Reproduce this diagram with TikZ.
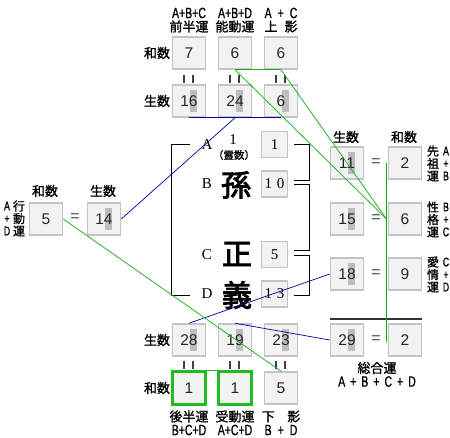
\documentclass[tikz,border=0pt]{standalone}
\usepackage{fontspec}
\setmainfont{Liberation Sans}
\newfontfamily\jp[FakeBold=1.2]{Noto Sans CJK JP}
\newfontfamily\jpb[FakeBold=3]{Noto Sans CJK JP}
\newfontfamily\ser{Liberation Serif}
\newfontfamily\nar[FakeStretch=0.7,FakeBold=0.8]{Liberation Sans}
\definecolor{boxfill}{HTML}{F2F2F2}
\definecolor{boxline}{HTML}{C4C4C4}
\definecolor{hlgray}{HTML}{BDBDBD}
\definecolor{lgreen}{HTML}{1FB01F}
\definecolor{vgreen}{HTML}{00B800}
\definecolor{lblue}{HTML}{0000A8}
\definecolor{bgreen}{HTML}{22BB22}
\tikzset{
 numbox/.style={draw=boxline, line width=1.5pt, fill=boxfill, minimum width=33pt, minimum height=32pt, inner sep=0pt, font=\fontsize{15.5}{15.5}\selectfont, text=black!85},
 hl/.style={path picture={\fill[hlgray] ([xshift=1pt,yshift=-11pt]path picture bounding box.center) rectangle ++(7pt,22pt);}},
 grbox/.style={numbox, draw=bgreen, line width=3pt},
 smallbox/.style={draw=boxline, line width=1.5pt, fill=boxfill, minimum width=26pt, minimum height=26pt, inner sep=0pt, font=\ser\fontsize{15}{15}\selectfont},
 jlab/.style={font=\jp\fontsize{13}{13}\selectfont, inner sep=0pt, align=center},
 nlab/.style={font=\nar\fontsize{15}{15}\selectfont, inner sep=0pt, align=center},
 jstack/.style={font=\jp\fontsize{12}{12.5}\selectfont, inner sep=0pt, align=center},
 nstack/.style={font=\nar\fontsize{12.5}{12.5}\selectfont, inner sep=0pt, align=center},
 serlab/.style={font=\ser\fontsize{15}{15}\selectfont, inner sep=0pt},
 bigk/.style={font=\jpb\fontsize{30}{30}\selectfont, inner sep=0pt},
 eqsign/.style={font=\fontsize{16}{16}\selectfont, text=black!70, inner sep=0pt},
 vmark/.style={draw=black!75, line width=1.8pt},
 bluel/.style={draw=lblue, line width=0.7pt},
 greenl/.style={draw=lgreen, line width=0.75pt},
 brk/.style={draw=black, line width=0.9pt},
}
\newcommand\vmarks[2]{%
 \draw[vmark] ([xshift=-5pt,yshift=-#2]#1.south) -- ++(0,8);
 \draw[vmark] ([xshift=4pt,yshift=-#2]#1.south) -- ++(0,8);}
\begin{document}
\begin{tikzpicture}[x=1pt,y=-1pt]
\useasboundingbox[fill=white] (0,0) rectangle (450,438);
% top labels
\node[nlab] (ta1) at (189,13) {A+B+C};
\node[jlab] (tb1) at (189,26.5) {前半運};
\node[nlab] (ta2) at (235,13) {A+B+D};
\node[jlab] (tb2) at (235,26.5) {能動運};
\node[nlab] (ta3) at (281,13) {A\hspace{6pt}+\hspace{6pt}C};
\node[jlab] (tb3) at (281,26.5) {上\hspace{7pt}影};
% top rows
\node[jlab] (tlw) at (157,53) {和数};
\node[jlab] (tls) at (157,101) {生数};
\node[numbox] (t1w) at (189,53) {7};
\node[numbox] (t2w) at (235,53) {6};
\node[numbox] (t3w) at (281,53) {6};
\node[numbox,hl] (t1s) at (189,101) {16};
\node[numbox,hl] (t2s) at (235,101) {24};
\node[numbox,hl] (t3s) at (281,101) {6};
\vmarks{t1w}{5pt}\vmarks{t2w}{5pt}\vmarks{t3w}{5pt}
% left
\node[jlab] (llw) at (45,191) {和数};
\node[jlab] (lls) at (103,191) {生数};
\node[nstack] (lsa) at (7,218.5) {A\\+\\D};
\node[jstack] (lsb) at (19,218.5) {行\\動\\運};
\node[numbox] (l5) at (46,219) {5};
\node[eqsign] (leq) at (75,218) {=};
\node[numbox,hl] (l14) at (104,219) {14};
% middle
\node[serlab] (la) at (207,145) {A};
\node[serlab] (lb) at (207,184) {B};
\node[serlab] (lc) at (207,255) {C};
\node[serlab] (ld) at (207,294) {D};
\node[serlab] (one) at (233,140) {1};
\node[font=\jp\fontsize{10.5}{10.5}\selectfont, inner sep=0pt] (rei) at (234,155) {（霊数）};
\node[bigk] (son) at (236,185) {孫};
\node[bigk] (sei) at (237,254) {正};
\node[bigk] (gi) at (237,295) {義};
\node[smallbox] (sa) at (274.5,144.5) {1};
\node[smallbox] (sb) at (274.5,184) {1\hspace{5pt}0};
\node[smallbox] (sc) at (274.5,254.5) {5};
\node[smallbox] (sd) at (274.5,294) {1\hspace{5pt}3};
\draw[brk] (190,144) -- (171,144) -- (171,295) -- (190,295);
\draw[brk] (294,144) -- (309,144) -- (309,180) -- (294,180);
\draw[brk] (294,184) -- (309,184) -- (309,250) -- (294,250);
\draw[brk] (294,255) -- (309,255) -- (309,295) -- (294,295);
% right column
\node[jlab] (rls) at (346,137) {生数};
\node[jlab] (rlw) at (404,137) {和数};
\node[numbox,hl] (r1s) at (347,163) {11};
\node[eqsign] (r1e) at (376,163) {=};
\node[numbox] (r1w) at (405,163) {2};
\node[numbox,hl] (r2s) at (347,219) {15};
\node[eqsign] (r2e) at (376,219) {=};
\node[numbox] (r2w) at (405,219) {6};
\node[numbox,hl] (r3s) at (347,274) {18};
\node[eqsign] (r3e) at (376,274) {=};
\node[numbox] (r3w) at (405,274) {9};
\node[numbox,hl] (r4s) at (347,340) {29};
\node[eqsign] (r4e) at (376,340) {=};
\node[numbox] (r4w) at (405,340) {2};
\node[jstack] (rk1) at (433,163.5) {先\\祖\\運};
\node[nstack] (rt1) at (446,163.5) {A\\+\\B};
\node[jstack] (rk2) at (433,219.5) {性\\格\\運};
\node[nstack] (rt2) at (446,219.5) {B\\+\\C};
\node[jstack] (rk3) at (433,274.5) {愛\\情\\運};
\node[nstack] (rt3) at (446,274.5) {C\\+\\D};
\draw[line width=2.5pt, black!80] ([yshift=4pt]r4s.north west) -- ([yshift=4pt]r4w.north east);
\node[jlab] (sog) at (377,368) {総合運};
\node[nlab] (sogf) at (377,381.5) {A\hspace{5pt}+\hspace{5pt}B\hspace{5pt}+\hspace{5pt}C\hspace{5pt}+\hspace{5pt}D};
% bottom rows
\node[jlab] (bls) at (157,340) {生数};
\node[jlab] (blw) at (157,388) {和数};
\node[numbox,hl] (b1s) at (189,340) {28};
\node[numbox,hl] (b2s) at (235,340) {19};
\node[numbox,hl] (b3s) at (281,340) {23};
\node[grbox] (b1w) at (189,388) {1};
\node[grbox] (b2w) at (235,388) {1};
\node[numbox] (b3w) at (281,388) {5};
\vmarks{b1s}{4pt}\vmarks{b2s}{4pt}\vmarks{b3s}{4pt}
\node[jlab] (bb1) at (189,416.5) {後半運};
\node[nlab] (ba1) at (189,430) {B+C+D};
\node[jlab] (bb2) at (235,416.5) {受動運};
\node[nlab] (ba2) at (235,430) {A+C+D};
\node[jlab] (bb3) at (281,416.5) {下\hspace{12.5pt}影};
\node[nlab] (ba3) at (281,430) {B\hspace{6pt}+\hspace{6pt}D};
% connectors
\draw[bluel] (t1s.south) -- (t3s.south);
\draw[bluel] (t2s.south) -- (l14.east);
\draw[bluel] (b1s.north) -- (r3s.west);
\draw[bluel] (b2s.north) -- (r4s.west);
\draw[greenl] (t2w.south) -- (t3w.south);
\draw[greenl] (t2w.south) -- ([xshift=-1.25pt]r2w.west);
\draw[greenl] (t3w.south) -- ([xshift=-1.25pt]r2w.west);
\draw[draw=vgreen, line width=1.5pt] ([xshift=-1.25pt]r1w.west) -- ([xshift=-1.25pt,yshift=-2pt]r4w.west);
\draw[greenl] (l5.east) -- (b3w.north);
\draw[draw=bgreen, line width=1pt] (b1w.north east) -- (b2w.north west);
\end{tikzpicture}
\end{document}
